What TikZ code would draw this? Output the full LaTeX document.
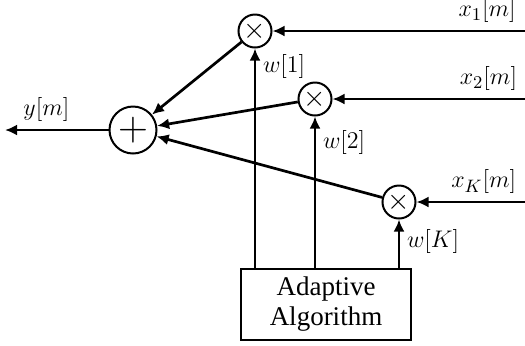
\documentclass[tikz,border=0pt]{standalone}
\usepackage{fontspec}
\setmainfont{Liberation Serif}
\usetikzlibrary{arrows.meta}

\begin{document}
\begin{tikzpicture}[x=0.5pt,y=-0.5pt,->,>={Latex[length=6pt,width=5.5pt]},line width=1.35pt,font=\fontsize{12.5}{14}\selectfont]
	\tikzstyle{mult}=[circle,draw,line width=1pt,minimum size=16.5pt,inner sep=0pt,font=\fontsize{14}{14}\selectfont]
	\tikzstyle{adder}=[circle,draw,line width=1pt,minimum size=23.5pt,inner sep=0pt,font=\fontsize{22}{22}\selectfont]
	\tikzstyle{algbox}=[rectangle,draw,line width=1pt,minimum width=85pt,minimum height=35.5pt,align=center,font=\fontsize{13.5}{15}\selectfont]

	\useasboundingbox (0,0) rectangle (525,345);

	\node[adder] (S) at (133,130) {$+$};
	\node[mult] (M1) at (255,31) {$\times$};
	\node[mult] (M2) at (315,99) {$\times$};
	\node[mult] (MK) at (399,202) {$\times$};
	\node[algbox] (A) at (326,304.5) {Adaptive\\Algorithm};

	\coordinate (Y) at (5,130);
	\coordinate (X1) at (525,31);
	\coordinate (X2) at (525,99);
	\coordinate (XK) at (525,202);

	\path (X1) edge node[above,pos=0.15] {$x_1[m]$} (M1);
	\path (X2) edge node[above,pos=0.19] {$x_2[m]$} (M2);
	\path (XK) edge node[above,pos=0.38] {$x_K[m]$} (MK);

	\path (A.north -| M1) edge node[right,pos=0.92] {$w[1]$} (M1);
	\path (A.north -| M2) edge node[right,pos=0.83] {$w[2]$} (M2);
	\path (A.north -| MK) edge node[right,pos=0.55] {$w[K]$} (MK);

	\path (M1) edge (S);
	\path (M2) edge (S);
	\path (MK) edge (S);
	\path (S) edge node[above,pos=0.6] {$y[m]$} (Y);
\end{tikzpicture}
\end{document}
